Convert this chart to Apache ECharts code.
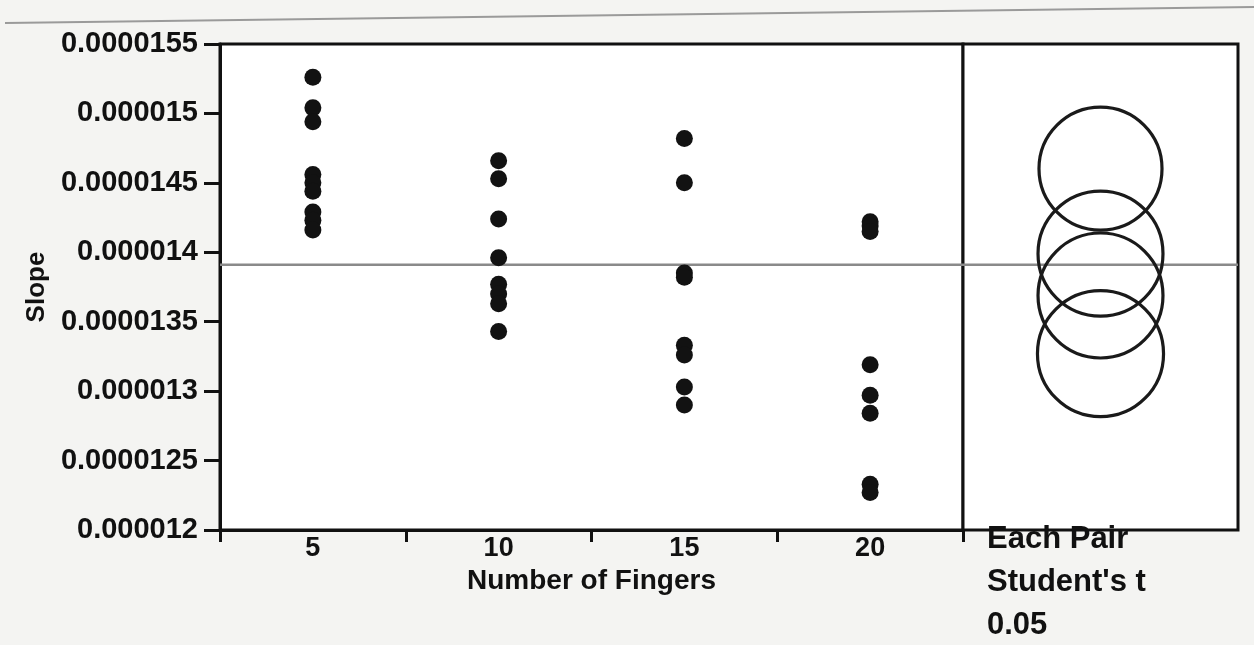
<!DOCTYPE html>
<html>
<head>
<meta charset="utf-8">
<style>
  html, body { margin: 0; padding: 0; background: #f4f4f2; }
  #chart { width: 1254px; height: 645px; }
</style>
<script src="https://cdn.jsdelivr.net/npm/echarts@6/dist/echarts.min.js"></script>
</head>
<body>
<div id="chart"></div>
<script>
// Number of fingers (groups on the x axis)
const categories = ['5', '10', '15', '20'];

// Slope measurements per group
const slope5  = [1.526e-5, 1.504e-5, 1.494e-5, 1.456e-5, 1.450e-5, 1.444e-5, 1.429e-5, 1.423e-5, 1.416e-5];
const slope10 = [1.466e-5, 1.453e-5, 1.424e-5, 1.396e-5, 1.377e-5, 1.370e-5, 1.363e-5, 1.343e-5];
const slope15 = [1.482e-5, 1.450e-5, 1.385e-5, 1.382e-5, 1.333e-5, 1.326e-5, 1.303e-5, 1.290e-5];
const slope20 = [1.422e-5, 1.419e-5, 1.415e-5, 1.319e-5, 1.297e-5, 1.284e-5, 1.233e-5, 1.227e-5];

// Comparison circle radii (Each Pair, Student's t, alpha 0.05)
const circleRadius = [0.443e-6, 0.450e-6, 0.450e-6, 0.454e-6];

// Y axis range
const yMin = 1.2e-5, yMax = 1.55e-5, yStep = 5e-7;

const groups = [slope5, slope10, slope15, slope20];
const points = [];
groups.forEach((g, i) => g.forEach(v => points.push([i, v])));

const mean = a => a.reduce((s, v) => s + v, 0) / a.length;
const groupMeans = groups.map(mean);
const grandMean = mean(groups.flat());
const circles = groupMeans.map((m, i) => [0.5, m, circleRadius[i]]);

const FONT = '"Liberation Sans", Arial, Helvetica, sans-serif';
const INK = '#111111';
const fmt = v => String(+Number(v).toFixed(10));

// Horizontal grand-mean line spanning the whole grid of the series
const meanLine = (xVal) => ({
  type: 'custom',
  data: [[xVal, grandMean]],
  silent: true,
  z: 2,
  renderItem: (params, api) => {
    const cs = params.coordSys;
    const y = api.coord([api.value(0), api.value(1)])[1];
    return {
      type: 'line',
      shape: { x1: cs.x, y1: y, x2: cs.x + cs.width, y2: y },
      style: { stroke: '#8a8a8a', lineWidth: 2.5 }
    };
  }
});

const chart = echarts.init(document.getElementById('chart'), null, { renderer: 'canvas' });

chart.setOption({
  animation: false,
  backgroundColor: '#f4f4f2',
  textStyle: { fontFamily: FONT },
  graphic: [
    { type: 'line', shape: { x1: 5, y1: 23, x2: 1254, y2: 7 }, style: { stroke: '#9a9a9a', lineWidth: 2 }, silent: true },
    {
      type: 'text', left: 987, top: 518, silent: true,
      style: {
        text: "Each Pair\nStudent's t\n0.05",
        font: 'bold 31px ' + FONT, fill: INK, lineHeight: 43
      }
    }
  ],
  grid: [
    { left: 220, top: 44, width: 743, height: 486, show: true, backgroundColor: '#ffffff', borderColor: INK, borderWidth: 3 },
    { left: 963, top: 44, width: 275, height: 486, show: true, backgroundColor: '#ffffff', borderColor: INK, borderWidth: 3 }
  ],
  xAxis: [
    {
      gridIndex: 0, type: 'category', data: categories, boundaryGap: true,
      name: 'Number of Fingers', nameLocation: 'middle', nameGap: 33,
      nameTextStyle: { fontSize: 28, fontWeight: 'bold', color: INK, fontFamily: FONT },
      axisLine: { show: true, lineStyle: { color: INK, width: 3 } },
      axisTick: { show: true, length: 12, lineStyle: { color: INK, width: 3 } },
      axisLabel: { fontSize: 27, fontWeight: 'bold', color: INK, margin: 5, fontFamily: FONT }
    },
    { gridIndex: 1, type: 'value', min: 0, max: 1, show: false }
  ],
  yAxis: [
    {
      gridIndex: 0, type: 'value', min: yMin, max: yMax, interval: yStep,
      name: 'Slope', nameLocation: 'middle', nameGap: 170,
      nameTextStyle: { fontSize: 26, fontWeight: 'bold', color: INK, fontFamily: FONT },
      axisLine: { show: true, lineStyle: { color: INK, width: 3 } },
      axisTick: { show: true, length: 16, lineStyle: { color: INK, width: 3 } },
      axisLabel: { fontSize: 29, fontWeight: 'bold', color: INK, margin: 22, formatter: fmt, fontFamily: FONT },
      splitLine: { show: false }
    },
    { gridIndex: 1, type: 'value', min: yMin, max: yMax, interval: yStep, show: false, splitLine: { show: false } }
  ],
  series: [
    Object.assign(meanLine(0), { xAxisIndex: 0, yAxisIndex: 0 }),
    Object.assign(meanLine(0.5), { xAxisIndex: 1, yAxisIndex: 1 }),
    {
      type: 'scatter', xAxisIndex: 0, yAxisIndex: 0,
      data: points, symbol: 'circle', symbolSize: 17,
      itemStyle: { color: '#121212', opacity: 1 },
      z: 3
    },
    {
      type: 'custom', xAxisIndex: 1, yAxisIndex: 1,
      data: circles,
      renderItem: (params, api) => {
        const c = api.coord([api.value(0), api.value(1)]);
        const r = api.size([0, api.value(2)])[1];
        return {
          type: 'circle',
          shape: { cx: c[0], cy: c[1], r: r },
          style: { fill: 'none', stroke: '#1a1a1a', lineWidth: 3.2 }
        };
      },
      z: 3
    }
  ]
});
</script>
</body>
</html>
